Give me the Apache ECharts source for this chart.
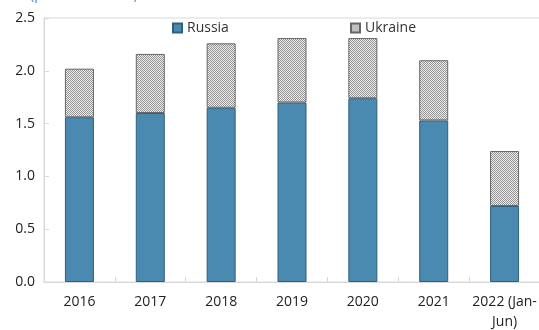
<!DOCTYPE html>
<html>
<head>
<meta charset="utf-8">
<script src="https://cdn.jsdelivr.net/npm/echarts@6/dist/echarts.min.js"></script>
<style>
html,body{margin:0;padding:0;background:#fff;}
#c{width:539px;height:330px;}
</style>
</head>
<body>
<div id="c"></div>
<script>
var categories = ['2016', '2017', '2018', '2019', '2020', '2021', '2022 (Jan-\nJun)'];
var russia = [1.56, 1.60, 1.65, 1.70, 1.74, 1.53, 0.72];
var ukraine = [0.46, 0.56, 0.61, 0.61, 0.57, 0.57, 0.52];
var yTicks = [0, 0.5, 1.0, 1.5, 2.0, 2.5];

function makePattern() {
  var cv = document.createElement('canvas');
  cv.width = 4; cv.height = 4;
  var ctx = cv.getContext('2d');
  ctx.fillStyle = '#ececec';
  ctx.fillRect(0, 0, 4, 4);
  ctx.fillStyle = '#959595';
  for (var x = 0; x < 4; x++) {
    for (var y = 0; y < 4; y++) {
      if ((x + y) % 2 === 0) ctx.fillRect(x, y, 1, 1);
    }
  }
  return cv;
}
var pattern = makePattern();

var chart = echarts.init(document.getElementById('c'), null, {renderer: 'canvas'});
var font = '"Open Sans", "Noto Sans", sans-serif';
chart.setOption({
  animation: false,
  textStyle: {fontFamily: font},
  grid: {left: 44, right: -1, top: 18, bottom: 48, show: true, borderColor: '#d9d9d9', borderWidth: 1,
         containLabel: false, outerBoundsMode: 'none'},
  legend: [
    {data: ['Russia'], left: 167, top: 16, icon: 'rect', itemWidth: 9, itemHeight: 9, itemGap: 6,
     textStyle: {fontSize: 14, color: '#333', fontFamily: font}},
    {data: ['Ukraine'], left: 345, top: 16, icon: 'rect', itemWidth: 9, itemHeight: 9, itemGap: 6,
     textStyle: {fontSize: 14, color: '#333', fontFamily: font}}
  ],
  graphic: [{
    type: 'text', left: 30, top: -12,
    style: {text: '(percent of GDP)', fill: '#3c8dd0', font: '14px ' + font}
  }],
  xAxis: {
    type: 'category',
    data: categories,
    axisLine: {lineStyle: {color: '#d9d9d9'}},
    axisTick: {show: true, inside: true, length: 5, lineStyle: {color: '#d9d9d9'}},
    axisLabel: {color: '#222', fontSize: 14, margin: 10, lineHeight: 20, interval: 0, fontFamily: font}
  },
  yAxis: {
    type: 'value',
    min: yTicks[0], max: yTicks[yTicks.length - 1], interval: 0.5,
    splitLine: {show: false},
    axisLine: {show: true, lineStyle: {color: '#d9d9d9'}},
    axisTick: {show: true, inside: true, length: 5, lineStyle: {color: '#d9d9d9'}},
    axisLabel: {color: '#222', fontSize: 14, margin: 9, fontFamily: font,
      formatter: function (v) { return v.toFixed(1); }}
  },
  series: [
    {name: 'Russia', type: 'bar', stack: 'a', data: russia, barWidth: 29,
     itemStyle: {color: '#4a89b0', borderColor: '#2f5f7c', borderWidth: 1}},
    {name: 'Ukraine', type: 'bar', stack: 'a', data: ukraine, barWidth: 29,
     itemStyle: {color: {image: pattern, repeat: 'repeat'}, borderColor: '#666', borderWidth: 1}}
  ]
});
</script>
</body>
</html>
